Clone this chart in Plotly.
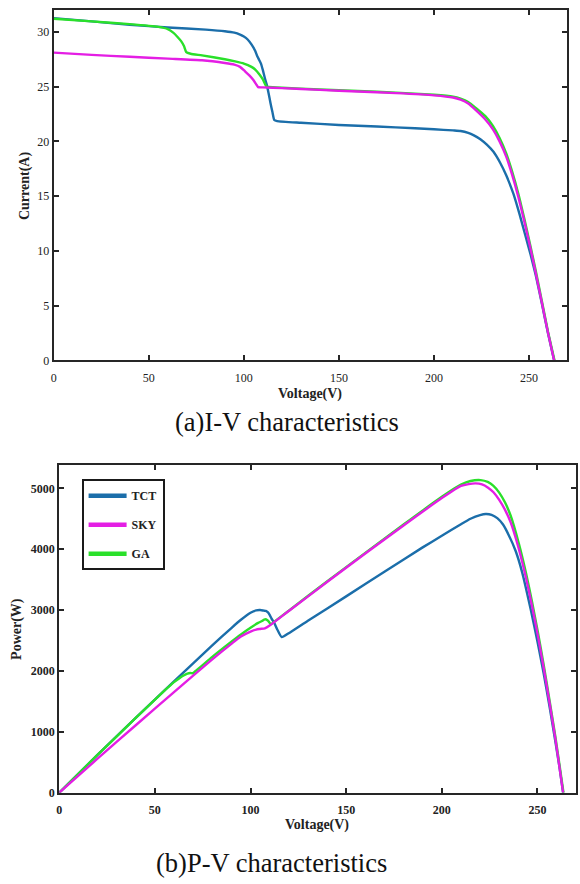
import plotly.graph_objects as go

# ---------------- I-V characteristics ----------------
iv_v_tct = [0, 20, 40, 60, 80, 90, 95, 98, 100, 102, 104, 106, 107, 108, 109, 110, 111,
            112, 113, 114, 115, 116, 117.5, 130, 150, 170, 190, 200, 210, 214, 218, 221,
            224.4, 227.8, 231.3, 234.8, 238, 241.8, 245, 248, 250.9, 253.5, 256.6, 260, 263.2]
iv_i_tct = [31.25, 30.95, 30.65, 30.4, 30.2, 30.05, 29.92, 29.75, 29.58, 29.3, 28.85, 28.25,
            27.8, 27.45, 27.1, 26.5, 25.8, 25.2, 24.4, 23.5, 22.7, 21.95, 21.85, 21.7, 21.5,
            21.35, 21.2, 21.1, 21.0, 20.95, 20.78, 20.55, 20.2, 19.7, 19.05, 18.05, 16.9,
            15.2, 13.35, 11.45, 9.6, 7.8, 5.3, 2.45, 0]

iv_v_sky = [0, 20, 40, 60, 78, 90, 95, 98, 100.6, 103, 105, 106.5, 107.5, 110, 120, 140,
            160, 180, 200, 210, 214, 218, 222, 227, 231, 234.5, 238, 241, 244.4, 247.5,
            250.9, 253.5, 256.6, 260, 263.2]
iv_i_sky = [28.1, 27.9, 27.72, 27.55, 27.4, 27.15, 27.0, 26.8, 26.4, 26.0, 25.6, 25.2,
            24.95, 24.93, 24.86, 24.7, 24.55, 24.4, 24.2, 24.0, 23.8, 23.45, 22.85, 22.0,
            21.1, 20.0, 18.6, 17.0, 14.9, 12.7, 10.1, 8.0, 5.4, 2.5, 0]

iv_v_ga = [0, 20, 40, 55, 60, 63, 65, 67, 68.5, 69.7, 72, 78, 90, 95.4, 100, 104, 106,
           108.2, 110, 111.9, 113, 120, 140, 160, 180, 200, 210, 214, 218, 222, 227, 231,
           234.5, 238, 241, 244.4, 247.5, 250.9, 253.5, 256.6, 260, 263.4]
iv_i_ga = [31.2, 30.95, 30.7, 30.45, 30.25, 29.9, 29.55, 29.15, 28.7, 28.15, 28.0, 27.85,
           27.5, 27.3, 27.1, 26.8, 26.55, 26.1, 25.65, 25.0, 24.97, 24.9, 24.74, 24.6,
           24.45, 24.25, 24.08, 23.9, 23.6, 23.05, 22.3, 21.4, 20.3, 18.9, 17.3, 15.2,
           12.95, 10.3, 8.2, 5.55, 2.6, 0]

# ---------------- P-V characteristics ----------------
pv_v_tct = [0, 20, 40, 60, 80, 90, 95, 100, 103, 105, 107, 108, 109, 110, 111, 112.5,
            114, 116.3, 120, 130, 150, 170, 190, 200, 210, 215, 220, 223, 226, 229, 232,
            235, 238.6, 242, 246.4, 250.2, 253.3, 256.4, 259.4, 261.5, 263.4]
pv_p_tct = [0, 620, 1228, 1830, 2420, 2705, 2840, 2955, 2995, 3000, 2990, 2985, 2965,
            2920, 2860, 2783, 2680, 2555, 2620, 2825, 3225, 3630, 4030, 4220, 4410, 4500,
            4560, 4578, 4565, 4510, 4405, 4230, 3970, 3620, 3020, 2450, 1950, 1400, 830,
            420, 0]

pv_v_sky = [0, 20, 40, 60, 80, 90, 95, 100, 103, 105, 107.5, 110, 120, 140, 160, 180,
            200, 210, 214, 217.7, 221, 224, 227, 230, 233, 236, 240.3, 244, 247.2, 250.2,
            253.3, 256.4, 259.4, 261.5, 263.4]
pv_p_sky = [0, 558, 1108, 1653, 2190, 2445, 2565, 2645, 2680, 2690, 2700, 2745, 2985,
            3460, 3930, 4390, 4840, 5040, 5070, 5081, 5065, 5015, 4935, 4810, 4650, 4440,
            4000, 3530, 3060, 2580, 2040, 1460, 880, 420, 0]

pv_v_ga = [0, 20, 40, 55, 60, 63, 65, 67, 68.5, 69.7, 72, 80, 90, 95, 100, 104, 106,
           107.5, 109, 110.7, 112.5, 120, 140, 160, 180, 200, 210, 215, 220.3, 224, 227,
           230, 233, 236, 240.3, 244, 247.2, 250.2, 253.3, 256.4, 259.4, 261.5, 263.6]
pv_p_ga = [0, 620, 1228, 1675, 1815, 1885, 1925, 1955, 1965, 1962, 2016, 2230, 2480,
           2600, 2710, 2790, 2820, 2848, 2830, 2766, 2810, 2990, 3470, 3940, 4405, 4860,
           5060, 5120, 5135, 5105, 5040, 4930, 4770, 4550, 4090, 3610, 3130, 2640, 2090,
           1500, 910, 460, 0]

series_names = ["TCT", "SKY", "GA"]
series_colors = {"TCT": "#1b6eaa", "SKY": "#e41ee4", "GA": "#2ae02a"}

W, H = 580, 884
SERIF = "Liberation Serif"
AXIS_COLOR = "#262626"


def px_x(p):
    return p / W


def px_y(p):
    return 1 - p / H


fig = go.Figure()

iv_data = {"TCT": (iv_v_tct, iv_i_tct), "SKY": (iv_v_sky, iv_i_sky), "GA": (iv_v_ga, iv_i_ga)}
pv_data = {"TCT": (pv_v_tct, pv_p_tct), "SKY": (pv_v_sky, pv_p_sky), "GA": (pv_v_ga, pv_p_ga)}

curve_line = dict(width=2.4, shape="spline", smoothing=0.5)

# draw order: TCT below, SKY on top
for name in ["TCT", "GA", "SKY"]:
    v, i = iv_data[name]
    fig.add_trace(go.Scatter(x=v, y=i, mode="lines", name=name, showlegend=False,
                             line=dict(color=series_colors[name], **curve_line),
                             xaxis="x", yaxis="y"))
for name in ["TCT", "GA", "SKY"]:
    v, p = pv_data[name]
    fig.add_trace(go.Scatter(x=v, y=p, mode="lines", name=name, showlegend=False,
                             line=dict(color=series_colors[name], **curve_line),
                             xaxis="x2", yaxis="y2"))

# legend entries with thicker sample lines
for rank, name in enumerate(series_names):
    fig.add_trace(go.Scatter(x=[None], y=[None], mode="lines", name=name,
                             legendgroup=name, legendrank=rank + 1, showlegend=True,
                             line=dict(color=series_colors[name], width=4.5),
                             xaxis="x2", yaxis="y2"))

tick_font = dict(family=SERIF, size=12, color="#222")
tick_font_b = dict(family=SERIF, size=12, color="#222", weight="bold")
axis_common = dict(showline=True, linecolor=AXIS_COLOR, linewidth=2, mirror="ticks",
                   ticks="inside", ticklen=5, tickwidth=2, tickcolor=AXIS_COLOR,
                   showgrid=False, zeroline=False)

fig.update_layout(
    width=W, height=H,
    margin=dict(l=0, r=0, t=0, b=0),
    paper_bgcolor="white", plot_bgcolor="white",
    xaxis=dict(domain=[px_x(51), px_x(567)], range=[0, 270], tickvals=[0, 50, 100, 150, 200, 250],
               tickfont=tick_font, anchor="y", ticklabelstandoff=5, **axis_common),
    yaxis=dict(domain=[px_y(363.3), px_y(10)], range=[0, 32], tickvals=[0, 5, 10, 15, 20, 25, 30],
               tickfont=tick_font, anchor="x", **axis_common),
    xaxis2=dict(domain=[px_x(56.5), px_x(575.7)], range=[0, 270], tickvals=[0, 50, 100, 150, 200, 250],
                tickfont=tick_font_b, anchor="y2", ticklabelstandoff=5, **axis_common),
    yaxis2=dict(domain=[px_y(799), px_y(468.3)], range=[0, 5390],
                tickvals=[0, 1000, 2000, 3000, 4000, 5000],
                tickfont=tick_font_b, anchor="x2", **axis_common),
    legend=dict(x=px_x(79), y=px_y(483), xanchor="left", yanchor="top",
                bgcolor="white", bordercolor="#1a1a1a", borderwidth=2,
                font=dict(family=SERIF, size=12, color="#222", weight="bold"),
                tracegroupgap=10, itemwidth=38, traceorder="grouped"),
    showlegend=True,
)

label_font = dict(family=SERIF, size=14, color="#222", weight="bold")
caption_font = dict(family=SERIF, size=26.5, color="#111")

annotations = [
    dict(text="Voltage(V)", x=px_x(309), y=px_y(397), font=label_font),
    dict(text="Current(A)", x=px_x(22), y=px_y(186.7), font=label_font, textangle=-90),
    dict(text="(a)I-V characteristics", x=px_x(285), y=px_y(425), font=caption_font),
    dict(text="Voltage(V)", x=px_x(316), y=px_y(831.5), font=label_font),
    dict(text="Power(W)", x=px_x(14), y=px_y(634), font=label_font, textangle=-90),
    dict(text="(b)P-V characteristics", x=px_x(269.5), y=px_y(870), font=caption_font),
]
for a in annotations:
    fig.add_annotation(xref="paper", yref="paper", showarrow=False,
                       xanchor="center", yanchor="middle", **a)

fig.write_html("out.html")
